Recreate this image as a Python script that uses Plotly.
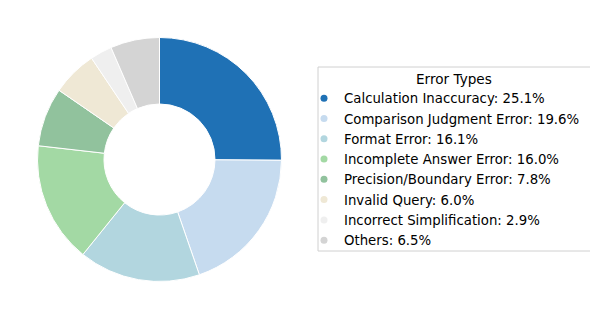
import plotly.graph_objects as go

categories = ["Calculation Inaccuracy", "Comparison Judgment Error", "Format Error",
              "Incomplete Answer Error", "Precision/Boundary Error", "Invalid Query",
              "Incorrect Simplification", "Others"]
values = [25.1, 19.6, 16.1, 16.0, 7.8, 6.0, 2.9, 6.5]
colors = ["#1f71b5", "#c6dbef", "#b2d6df", "#a3d9a4", "#91c29d", "#efe8d5", "#efefef", "#d4d4d4"]
legend_title = "Error Types"

W, H, OFF = 598, 319, 8
def px(x): return (x - OFF) / W
def py(y): return 1 - (y - OFF) / H

fig = go.Figure()
fig.add_trace(go.Pie(
    labels=categories, values=values, sort=False, direction="clockwise", rotation=0,
    hole=0.455, marker=dict(colors=colors, line=dict(color="white", width=1)),
    textinfo="none", hoverinfo="label+percent", showlegend=False,
    domain=dict(x=[px(37.5), px(281.5)], y=[py(281.5), py(37.5)]),
))
for c, v, col in zip(categories, values, colors):
    fig.add_trace(go.Scatter(x=[None], y=[None], mode="markers", name=f"{c}: {v:.1f}%",
                             marker=dict(symbol="circle", size=7, color=col)))

fig.add_shape(type="rect", xref="paper", yref="paper",
              x0=px(318), x1=px(591), y0=py(251), y1=py(67),
              line=dict(color="#d0d0d0", width=1), fillcolor="rgba(0,0,0,0)", layer="below")
fig.add_annotation(text=legend_title, xref="paper", yref="paper", x=px(454), y=py(78.5),
                   xanchor="center", yanchor="middle", showarrow=False,
                   font=dict(size=13.6, color="black"))

fig.update_layout(
    width=W, height=H, margin=dict(l=0, r=0, t=0, b=0),
    paper_bgcolor="white", plot_bgcolor="white",
    font=dict(family="DejaVu Sans", size=13.3, color="black"),
    xaxis=dict(visible=False), yaxis=dict(visible=False),
    legend=dict(x=px(304), y=py(83), xanchor="left", yanchor="top",
                borderwidth=0, bgcolor="rgba(0,0,0,0)",
                itemwidth=30, font=dict(size=13.3)),
)
fig.write_html("out.html")
